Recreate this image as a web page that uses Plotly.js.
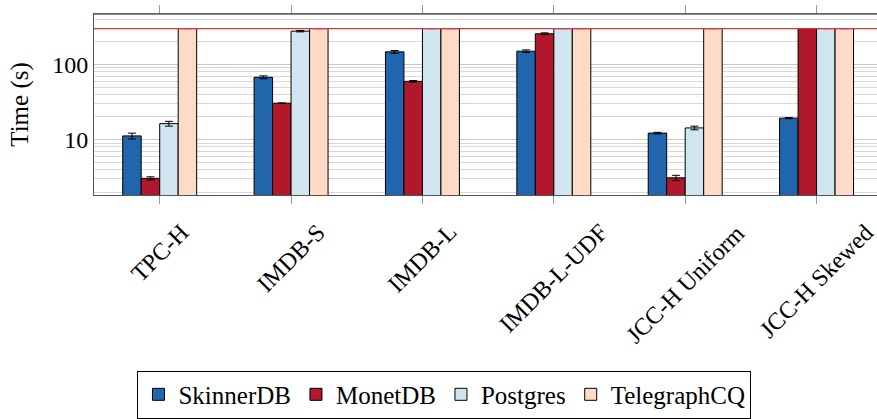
<!DOCTYPE html>
<html>
<head>
<meta charset="utf-8">
<script src="https://cdn.plot.ly/plotly-3.0.1.min.js"></script>
<style>html,body{margin:0;padding:0;background:#fff}#chart{width:877px;height:419px}</style>
</head>
<body>
<div id="chart"></div>
<script>
const categories = ["TPC-H", "IMDB-S", "IMDB-L", "IMDB-L-UDF", "JCC-H Uniform", "JCC-H Skewed"];
const seriesNames = ["SkinnerDB", "MonetDB", "Postgres", "TelegraphCQ"];
const skinnerDB = [11.2, 67.5, 147, 150, 12.2, 19.3];
const skinnerErr = [1.0, 3, 6, 6, 0.3, 0.3];
const monetDB = [3.05, 30.5, 59.5, 256, 3.1, 300];
const monetErr = [0.15, 0.3, 1.5, 7, 0.25, 0];
const postgres = [16.3, 277, 300, 300, 14.3, 300];
const postgresErr = [1.2, 6, 0, 0, 0.8, 0];
const telegraphCQ = [300, 300, 300, 300, 300, 300];
const telegraphErr = [0, 0, 0, 0, 0, 0];
const timeoutValue = 300;
const yTickVals = [10, 100];
const yTickText = ["10", "100"];
const yMinorVals = [2,3,4,5,6,7,8,9,20,30,40,50,60,70,80,90,200,300,400];

const colors = ["#2166ac", "#b2182b", "#d1e5f0", "#fddbc7"];
const values = [skinnerDB, monetDB, postgres, telegraphCQ];
const errs = [skinnerErr, monetErr, postgresErr, telegraphErr];
const font = "'Liberation Serif', 'DejaVu Serif', serif";

const traces = seriesNames.map((name, i) => ({
  type: "bar",
  name: name,
  x: categories,
  y: values[i],
  marker: {color: colors[i], line: {color: "#000", width: 1}},
  error_y: {type: "data", array: errs[i], visible: true, color: "#000", thickness: 1, width: 4}
}));

const labelAnnotations = categories.map(c => ({
  x: c, xref: "x", y: -0.118, yref: "paper",
  xanchor: "center", yanchor: "top", textangle: -45, showarrow: false,
  text: c, font: {family: font, size: 24, color: "#000"}
}));

const layout = {
  width: 877, height: 419,
  margin: {l: 94, r: 0, t: 14, b: 222},
  paper_bgcolor: "#fff", plot_bgcolor: "#fff",
  font: {family: font, size: 24, color: "#000"},
  barmode: "group",
  bargap: 0.437,
  bargroupgap: 0,
  showlegend: true,
  legend: {
    orientation: "h", x: 0.4476, xanchor: "center", y: -0.97, yanchor: "top",
    bordercolor: "#000", borderwidth: 1, font: {family: font, size: 25, color: "#000"},
    traceorder: "normal", itemwidth: 30
  },
  xaxis: {
    type: "category", range: [-0.5, 5.46],
    ticks: "outside", ticklen: 8, tickcolor: "#999",
    showticklabels: false,
    showline: true, linecolor: "#555", linewidth: 1, mirror: "all",
    showgrid: false
  },
  yaxis: {
    type: "log", range: [0.263, 2.671],
    tickvals: yTickVals, ticktext: yTickText,
    ticks: "", showline: true, linecolor: "#555", linewidth: 1, mirror: true,
    showgrid: true, gridcolor: "#c8c8c8", gridwidth: 1,
    minor: {tickvals: yMinorVals, showgrid: true, gridcolor: "#d8d8d8", gridwidth: 1, ticks: ""},
    zeroline: false,
    tickfont: {family: font, size: 24, color: "#000"},
    title: {text: "Time (s)", font: {family: font, size: 25, color: "#000"}, standoff: 16}
  },
  annotations: labelAnnotations,
  shapes: [{
    type: "line", xref: "paper", x0: 0, x1: 1, yref: "y", y0: timeoutValue, y1: timeoutValue,
    line: {color: "#d9363e", width: 1.2}
  }, {
    type: "line", xref: "paper", x0: 0, x1: 1, yref: "paper", y0: 1, y1: 1,
    line: {color: "#666", width: 1.5}
  }]
};

Plotly.newPlot("chart", traces, layout, {displayModeBar: false, staticPlot: true});
</script>
</body>
</html>
